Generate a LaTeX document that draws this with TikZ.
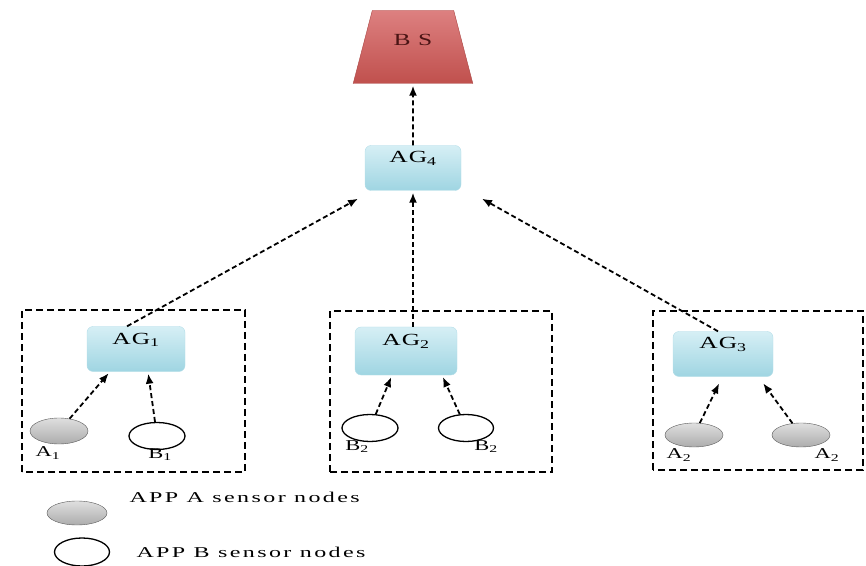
\documentclass[tikz,border=0pt]{standalone}
\usepackage{fontspec}
\setmainfont{Liberation Serif}[FakeStretch=1.5,LetterSpace=6]
\newfontfamily\legendfont{Liberation Serif}[FakeStretch=1.6,LetterSpace=16]
\usetikzlibrary{arrows.meta,shapes.geometric}
\definecolor{bstop}{HTML}{DD8080}
\definecolor{bsbot}{HTML}{C0504D}
\definecolor{bsline}{HTML}{A94442}
\definecolor{bstext}{HTML}{4A1414}
\definecolor{agtop}{HTML}{D6EFF5}
\definecolor{agbot}{HTML}{9FD5E2}
\definecolor{agline}{HTML}{B5DEE8}

\begin{document}
\begin{tikzpicture}[x=1pt,y=1pt,
  agbox/.style={draw=agline,rounded corners=6pt,top color=agtop,bottom color=agbot,
    minimum width=98pt,minimum height=45pt,text height=13pt,text depth=23pt,
    font=\fontsize{17}{19}\selectfont},
  appa/.style={ellipse,draw=gray!70!black,top color=gray!25,bottom color=gray!65,
    minimum width=58pt,minimum height=26pt,inner sep=0pt},
  appb/.style={ellipse,draw=black,line width=1.3pt,fill=white,
    minimum width=56pt,minimum height=27pt,inner sep=0pt},
  lbl/.style={font=\fontsize{15}{17}\selectfont},
  legend/.style={anchor=west,font=\legendfont\fontsize{15}{17}\selectfont},
  group/.style={dash pattern=on 7pt off 4pt,line width=1.8pt},
  arr/.style={-{Latex[length=10pt,width=8pt]},line width=1.8pt,
    dash pattern=on 5pt off 3pt,shorten >=2pt}]
\useasboundingbox (0,0) rectangle (866,565);

% base station and top aggregator
\node[trapezium,trapezium angle=72,trapezium stretches=true,minimum width=120pt,
  minimum height=73pt,draw=bsline,top color=bstop,bottom color=bsbot,
  text=bstext,text height=12pt,text depth=14pt,font=\fontsize{17}{19}\selectfont]
  (bs) at (413,518) {B S};
\node[agbox,minimum width=96pt] (ag4) at (413,397) {AG\textsubscript{4}};

% groups
\draw[group] (22,93) rectangle (245,255);
\draw[group] (330,93) rectangle (552,254);
\draw[group] (653,95) rectangle (863,254);

\node[agbox] (ag1) at (136,216) {AG\textsubscript{1}};
\node[agbox,minimum width=102pt,minimum height=48pt] (ag2) at (406,214) {AG\textsubscript{2}};
\node[agbox,minimum width=100pt] (ag3) at (723,211) {AG\textsubscript{3}};

% sensor nodes
\node[appa] (a1) at (59,134) {};
\node[appb] (b1) at (157,129) {};
\node[appb] (b2l) at (370,137) {};
\node[appb,minimum width=55pt] (b2r) at (466,137) {};
\node[appa,minimum height=24pt] (a2l) at (694,130) {};
\node[appa,minimum height=24pt] (a2r) at (801,130) {};
\node[lbl] (la1) at (48,112) {A\textsubscript{1}};
\node[lbl] (lb1) at (160,110) {B\textsubscript{1}};
\node[lbl] (lb2l) at (357,118) {B\textsubscript{2}};
\node[lbl] (lb2r) at (486,118) {B\textsubscript{2}};
\node[lbl] (la2l) at (679,110) {A\textsubscript{2}};
\node[lbl] (la2r) at (827,110) {A\textsubscript{2}};

% links
\draw[arr] (a1) -- ([xshift=-26pt]ag1.south);
\draw[arr] (b1) -- ([xshift=12pt]ag1.south);
\draw[arr] (b2l) -- ([xshift=-14pt]ag2.south);
\draw[arr] (b2r) -- ([xshift=36pt]ag2.south);
\draw[arr] (a2l) -- ([xshift=-3pt,yshift=-5pt]ag3.south);
\draw[arr] (a2r) -- ([xshift=39pt,yshift=-5pt]ag3.south);
\draw[arr] ([xshift=-9pt]ag1.north) -- ([shift={(-5,-7)}]ag4.south west);
\draw[arr] ([xshift=7pt]ag2.north) -- (ag4.south);
\draw[arr] ([xshift=-5pt]ag3.north) -- ([shift={(19,-7)}]ag4.south east);
\draw[arr] (ag4.north) -- (bs.south);

% legend
\node[appa,minimum width=60pt,minimum height=24pt] (keya) at (77,52) {};
\node[appb,minimum width=55pt,minimum height=28pt] (keyb) at (82,13) {};
\node[legend] (texta) at (126,68) {APP A sensor nodes};
\node[legend] (textb) at (133,13) {APP B sensor nodes};
\end{tikzpicture}
\end{document}
